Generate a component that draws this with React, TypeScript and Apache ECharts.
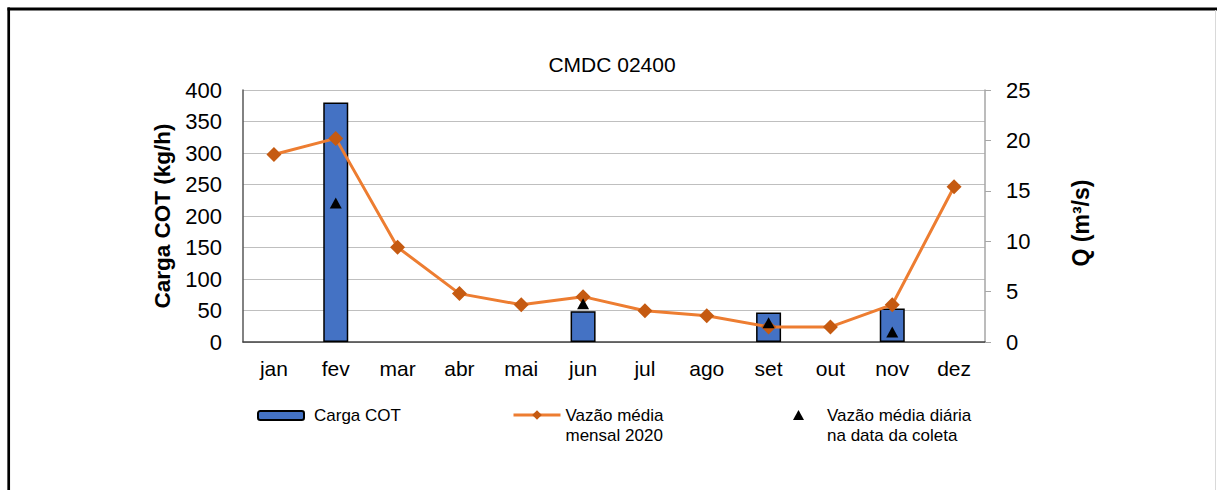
import React, { useEffect, useRef } from "react";
import * as echarts from "echarts";

const months = ["jan", "fev", "mar", "abr", "mai", "jun", "jul", "ago", "set", "out", "nov", "dez"];
const cargaCOT: (number | null)[] = [null, 380, null, null, null, 49, null, null, 47, null, 53, null];
const vazaoMensal = [18.6, 20.2, 9.4, 4.8, 3.7, 4.5, 3.1, 2.6, 1.5, 1.5, 3.7, 15.4];
const vazaoDiaria: (number | null)[] = [null, 13.8, null, null, null, 3.8, null, null, 1.9, null, 1.0, null];
const leftTicks = { min: 0, max: 400, interval: 50 };
const rightTicks = { min: 0, max: 25, interval: 5 };

const FONT = "Liberation Sans, Arial, sans-serif";
const SER_BAR = "Carga COT";
const SER_LINE = "Vazão média mensal 2020";
const SER_TRI = "Vazão média diária na data da coleta";

export default function App() {
  const ref = useRef<HTMLDivElement>(null);
  useEffect(() => {
    if (!ref.current) return;
    const chart = echarts.init(ref.current, undefined, { renderer: "svg" });
    chart.setOption({
      animation: false,
      backgroundColor: "#ffffff",
      textStyle: { fontFamily: FONT, color: "#000" },
      title: {
        text: "CMDC 02400",
        left: 607,
        textAlign: "center",
        top: 49,
        textStyle: { fontFamily: FONT, fontSize: 21, fontWeight: "normal", color: "#000" },
      },
      graphic: [
        { type: "line", shape: { x1: 8.7, y1: 7.5, x2: 8.7, y2: 495 }, style: { stroke: "#000", lineWidth: 2.7 } },
        { type: "line", shape: { x1: 7.5, y1: 9, x2: 1217, y2: 9 }, style: { stroke: "#000", lineWidth: 3 } },
        { type: "line", shape: { x1: 1215.5, y1: 10, x2: 1215.5, y2: 490 }, style: { stroke: "#d9d9d9", lineWidth: 1 } },
      ],
      legend: [
        {
          data: [SER_BAR],
          left: 257,
          top: 407,
          padding: 0,
          itemWidth: 46,
          itemHeight: 9,
          selectedMode: false,
          textStyle: { fontFamily: FONT, fontSize: 17, color: "#000", padding: [0, 0, 0, 5] },
        },
        {
          data: [SER_LINE],
          left: 512,
          top: 385,
          padding: 0,
          itemWidth: 47,
          itemHeight: 12,
          selectedMode: false,
          lineStyle: { width: 3, color: "#ED7D31" },
          itemStyle: { color: "#C55A11" },
          formatter: () => " \nVazão média\nmensal 2020",
          textStyle: { fontFamily: FONT, fontSize: 17, color: "#000", lineHeight: 20 },
        },
        {
          data: [SER_TRI],
          left: 793,
          top: 385,
          padding: 0,
          itemWidth: 11,
          itemHeight: 10,
          selectedMode: false,
          itemStyle: { color: "#000", opacity: 1 },
          formatter: () => " \nVazão média diária\nna data da coleta",
          textStyle: { fontFamily: FONT, fontSize: 17, color: "#000", lineHeight: 20, padding: [0, 0, 0, 18] },
        },
      ],
      grid: { left: 243, right: 232, top: 90, bottom: 148, containLabel: false },
      xAxis: {
        type: "category",
        data: months,
        axisLine: { show: true, lineStyle: { color: "#404040", width: 1.5 } },
        axisTick: { show: false },
        axisLabel: { fontFamily: FONT, fontSize: 21, color: "#000", margin: 16 },
      },
      yAxis: [
        {
          type: "value",
          min: leftTicks.min,
          max: leftTicks.max,
          interval: leftTicks.interval,
          name: "Carga COT (kg/h)",
          nameLocation: "middle",
          nameGap: 67,
          nameTextStyle: { fontFamily: FONT, fontSize: 22.5, fontWeight: "bold", color: "#000" },
          axisLine: { show: true, lineStyle: { color: "#595959", width: 1.5 } },
          axisTick: { show: false },
          axisLabel: { fontFamily: FONT, fontSize: 22, color: "#000", margin: 21 },
          splitLine: { show: true, lineStyle: { color: "#bfbfbf", width: 1 } },
        },
        {
          type: "value",
          position: "right",
          min: rightTicks.min,
          max: rightTicks.max,
          interval: rightTicks.interval,
          name: "Q (m³/s)",
          nameLocation: "middle",
          nameGap: 84,
          nameTextStyle: { fontFamily: FONT, fontSize: 23, fontWeight: "bold", color: "#000", padding: [0, 14, 0, 0] },
          axisLine: { show: true, lineStyle: { color: "#a6a6a6", width: 1.5 } },
          axisTick: { show: true, inside: false, length: 6, lineStyle: { color: "#a6a6a6" } },
          axisLabel: { fontFamily: FONT, fontSize: 22, color: "#000", margin: 21 },
          splitLine: { show: false },
        },
      ],
      series: [
        {
          name: SER_BAR,
          type: "bar",
          yAxisIndex: 0,
          data: cargaCOT,
          barWidth: 25,
          itemStyle: { color: "#4472C4", borderColor: "#000", borderWidth: 1.5 },
          z: 2,
        },
        {
          name: SER_LINE,
          type: "line",
          yAxisIndex: 1,
          data: vazaoMensal,
          symbol: "diamond",
          symbolSize: 15,
          lineStyle: { color: "#ED7D31", width: 3 },
          itemStyle: { color: "#C55A11" },
          z: 3,
        },
        {
          name: SER_TRI,
          type: "scatter",
          yAxisIndex: 1,
          data: vazaoDiaria,
          symbol: "triangle",
          symbolSize: [12, 11],
          itemStyle: { color: "#000", opacity: 1 },
          z: 4,
        },
      ],
    });
    return () => chart.dispose();
  }, []);
  return (
    <div
      ref={ref}
      style={{ position: "fixed", left: 0, top: 0, width: 1217, height: 490, background: "#fff" }}
    />
  );
}
